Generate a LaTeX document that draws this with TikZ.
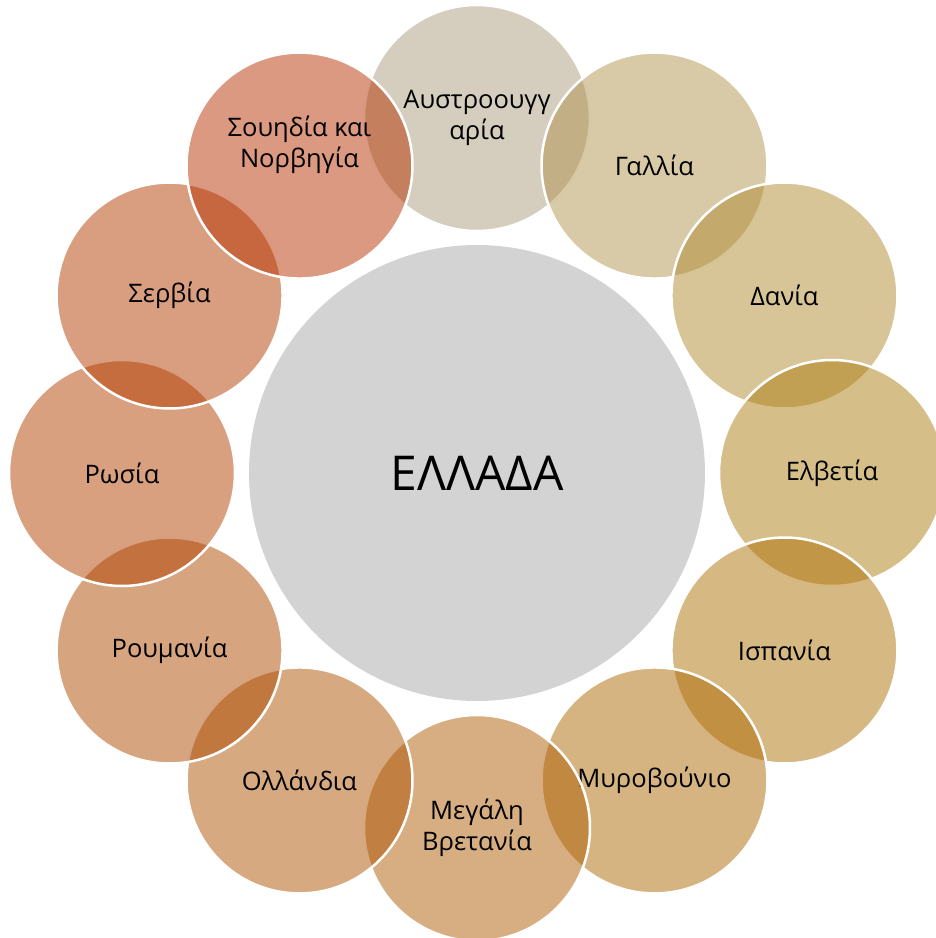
\documentclass[tikz,border=0pt]{standalone}
\usepackage{fontspec}
\setmainfont{Open Sans}
\usetikzlibrary{positioning}
\usepackage{xcolor}
\definecolor{core}{HTML}{D3D3D3}
\definecolor{austria}{HTML}{AB9B7D}
\definecolor{france}{HTML}{B1934F}
\definecolor{denmark}{HTML}{AF8B31}
\definecolor{swiss}{HTML}{AD7D11}
\definecolor{spain}{HTML}{AD7107}
\definecolor{montenegro}{HTML}{AD6903}
\definecolor{britain}{HTML}{AD5D05}
\definecolor{holland}{HTML}{AD5301}
\definecolor{romania}{HTML}{AD4900}
\definecolor{russia}{HTML}{B14100}
\definecolor{serbia}{HTML}{B33B01}
\definecolor{sweden}{HTML}{B53301}

\begin{document}
\begin{tikzpicture}[
  x=1pt, y=1pt,
  hub/.style={circle, fill=core, minimum size=456pt, inner sep=0pt,
              font=\fontsize{48}{58}\selectfont},
  country/.style={circle, draw=white, line width=2.5pt, minimum size=226pt,
                  inner sep=0pt, fill opacity=0.5, text opacity=1,
                  align=center, font=\fontsize{25.5}{31}\selectfont},
]
  \useasboundingbox (-477,-465) rectangle (459,473);
  \clip (-477,-465) rectangle (459,473);

  % Centre
  \node[hub] (greece) at (0, 0) {ΕΛΛΑΔΑ};

  % Ring of countries, clockwise from the top
  \node[country, fill=austria] (austria) at (90:355) {Αυστροουγγ\\αρία};
  \node[country, fill=france] (france) at (60:355) {Γαλλία};
  \node[country, fill=denmark] (denmark) at (30:355) {Δανία};
  \node[country, fill=swiss] (swiss) at (0:355) {Ελβετία};
  \node[country, fill=spain] (spain) at (-30:355) {Ισπανία};
  \node[country, fill=montenegro] (montenegro) at (-60:355) {Μυροβούνιο};
  \node[country, fill=britain] (britain) at (-90:355) {Μεγάλη\\Βρετανία};
  \node[country, fill=holland] (holland) at (-120:355) {Ολλάνδια};
  \node[country, fill=romania] (romania) at (-150:355) {Ρουμανία};
  \node[country, fill=russia] (russia) at (180:355) {Ρωσία};
  \node[country, fill=serbia] (serbia) at (150:355) {Σερβία};
  \node[country, fill=sweden, text height=19pt, text depth=15pt]
    (sweden) at (120:355) {Σουηδία και\\Νορβηγία};

\end{tikzpicture}
\end{document}
